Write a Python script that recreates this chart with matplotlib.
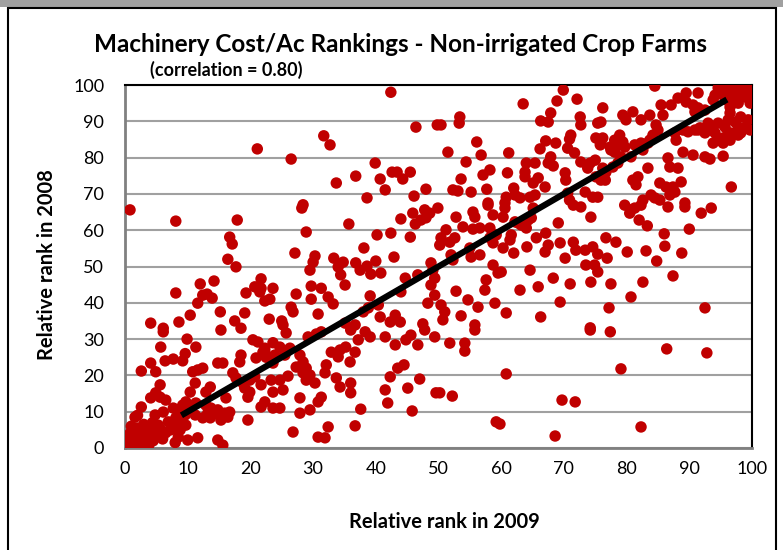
import numpy as np
import matplotlib
matplotlib.use('Agg')
import matplotlib.pyplot as plt
from matplotlib.patches import Rectangle

plt.rcParams['font.family'] = ['Lato', 'DejaVu Sans']

# (rank 2009, rank 2008) pairs, grouped by area
pts_low_left = [
    (21.1, 82.4), (0.8, 65.6), (8.1, 62.5), (17.9, 62.8), (16.7, 58.1), (17.1, 56.2), (16.4, 52), (17.7, 49.9),
    (21.7, 46.6), (20.7, 44.4), (21.7, 44), (21.5, 43), (23.6, 44), (22.3, 40.5), (23.1, 41), (19.3, 42.7),
    (14.2, 46), (12, 45.2), (8.1, 42.7), (12.4, 42.1), (13.1, 42.4), (13.9, 41.3), (11.6, 39.9), (10.4, 36.6),
    (15.2, 37.5), (19.1, 37.2), (23, 35.5), (17.5, 35), (18.5, 33), (8.6, 34.7), (4.1, 34.4), (6.1, 33), (15.3, 32.5),
    (6.1, 32), (9.9, 30), (5.7, 27.8), (11.3, 27.8), (20.4, 29.8), (22.3, 26.7), (23.6, 29), (9.6, 26), (9.2, 24),
    (7.7, 24.5), (6.4, 24), (4.1, 23.4), (2.6, 21.2), (4.9, 21), (11.6, 21.5), (10.8, 21), (12.4, 22), (14.8, 23.4),
    (15.6, 23.4), (18.5, 25.6), (18.3, 23.7), (20.9, 24.8), (22, 26.4), (22.5, 25), (23.6, 23.4), (23.9, 25.6),
    (17.2, 20.7), (17.7, 19.3), (18.8, 17.9), (19.9, 18.7), (20.7, 19.6), (19.1, 16.5), (19.9, 15.4), (19.6, 14),
    (21.7, 17.4), (23.3, 18.7), (23.6, 15.4), (22.3, 12.7), (21.7, 11.3), (23.6, 11),
    (5.6, 17.4), (4.1, 13.8), (5.6, 14), (6.5, 13.2), (4.9, 15.2), (2.6, 11.3), (1.6, 8.5), (4.8, 9.1), (6.1, 9.9),
    (7.7, 11), (9.2, 11.8), (8.8, 10.5), (9.6, 9.1), (10.5, 10.5), (11.2, 9.1), (8.1, 8.3), (6.9, 7.2), (5.3, 6.3),
    (5.7, 5), (4, 5), (3.2, 4.1), (2.1, 4.1), (1.3, 3), (1, 1.7), (0.5, 0.8), (1.8, 1.4), (2.6, 2.2), (3.7, 3.6),
    (9.7, 6.3), (8.5, 3), (10, 2.2), (11.6, 2.8), (8.8, 5), (7.3, 5),
    (16.1, 13.8), (19.6, 7.7), (14.8, 2.2), (15.6, 0.8), (13.7, 11), (12.9, 11.8), (14.4, 9.6), (14.8, 10.5),
    (15.9, 9.6), (16.4, 8.5), (13.2, 9.6), (12.4, 8.3), (13.6, 8.3), (15.3, 7.7), (16.7, 9.9), (12.9, 15.4),
    (13.6, 16.8), (10.4, 15.4), (11.2, 17.9), (9.7, 12.7), (11.3, 12.4), (21.2, 29.2), (22.3, 27.5),
    (0.3, 0.3), (1.5, 0.5), (2.2, 1), (3, 1.5), (2.8, 3), (1.2, 2.5), (0.8, 4), (3.5, 2.5), (2, 5.5), (4.5, 2),
    (0.5, 2.5), (2.5, 0.3), (3.8, 0.8), (5, 3.5), (6, 2.5), (6.5, 4.2), (4.4, 7), (3, 6.5), (1, 6), (2, 9),
    (7.5, 6.5), (8, 1.5), (9, 7),
]

pts_mid_left = [
    (42.4, 98), (46.4, 88.4), (49.8, 89), (31.7, 86), (32.7, 83.5), (26.5, 79.6), (39.9, 78.5), (42.6, 76),
    (43.4, 76), (45.5, 76), (36.8, 74.9), (40.7, 74.1), (44.3, 74.1), (33.7, 73), (41.5, 71.1), (48, 71.3),
    (46.1, 69.4), (38.6, 68.9), (28.4, 67),
    (28.2, 66.1), (35.7, 61.7), (28.9, 59.5), (45.9, 64.7), (47.8, 65.6), (48.6, 64.7), (48, 63.4), (47.2, 62.8),
    (46.3, 61.7), (44, 63.1), (40.2, 58.7), (42.4, 59.2), (45.5, 58.1), (38.1, 55.1), (42.9, 52.6), (27.1, 53.7),
    (30.3, 52.9), (30, 51.2), (29.5, 49), (33.3, 52.3), (34.8, 51.2), (34, 49.9), (34.4, 47.7), (35.1, 44.9),
    (36.8, 51), (37.5, 49), (38.6, 50.1), (40, 51.5), (39.2, 47.9), (40.8, 48.2), (48.8, 51), (49.1, 49),
    (49.4, 46.8), (48.8, 44.9), (49.4, 42.1), (44.7, 46.8), (46.7, 47.7), (44, 43), (29.7, 44.6), (31.3, 44),
    (27.3, 42.4), (29.7, 41), (32.4, 41.6), (33.2, 39.7), (39.1, 41.9), (26.5, 38.8), (26.8, 37.5), (30.8, 36.9),
    (25, 35), (25.2, 33.9), (38, 37.5), (38.8, 38.6), (40.4, 39.4), (40.7, 36.1), (43.1, 36.6), (43.9, 34.7),
    (42.3, 34.7), (47.5, 34.2), (48.3, 39.9), (35.1, 34.4), (36.7, 33.9),
    (25.7, 31.7), (29.2, 30.6), (30.5, 31.4), (31.3, 32), (24.7, 27.8), (26.3, 27.5), (25.5, 25.6), (27.9, 25.6),
    (28.4, 23.7), (27.3, 22.3), (28.9, 22), (28.4, 20.7), (29.5, 20.1), (28.9, 18.7), (30.3, 17.9), (26, 19.8),
    (24.7, 18.7), (25.2, 16), (32.1, 22.9), (31.9, 20.7), (32.9, 26.4), (34.3, 27), (35.2, 27.8), (36.7, 26.4),
    (34, 25.1), (35.9, 23.7), (36, 32.5), (37.2, 29.8), (38.3, 32), (39.1, 30.6), (33.7, 19.3), (34.3, 16.8),
    (36, 17.9), (36, 15.2), (31.3, 14), (30.8, 12.7), (29.5, 10.5), (27.9, 9.6), (27.9, 13.8), (24.7, 11),
    (37.6, 10.7), (26.8, 4.4), (30.8, 3), (31.9, 2.8), (32.4, 5.8), (36.7, 6.1), (41.5, 30.6), (43.1, 28.4),
    (44.8, 29.8), (45.6, 31.1), (46.7, 28.4), (47.8, 32.5), (49.4, 30.6), (43.5, 22), (44.5, 22.9), (42.3, 19.6),
    (41.5, 16), (41.9, 12.4), (45.1, 16.5), (47, 19), (45.8, 10.2), (49.6, 15.2),
]

pts_mid_right = [
    (51.8, 28.9), (54.2, 28.9), (54.2, 26.7), (55.8, 32.5), (74.2, 32.5), (60.8, 20.4), (50.2, 15.2), (52.2, 14.3),
    (69.7, 13.2), (71.8, 12.7), (59.2, 7.2), (59.8, 6.6), (68.6, 3.3),
    (49.9, 66.1), (52.8, 63.6), (55.5, 65), (55.8, 63.6), (57.9, 66.9), (58.7, 64.2), (60.3, 63.6), (60.6, 66.1),
    (62.2, 62.3), (63.2, 61.4), (64.3, 62.8), (65.1, 66.1), (64.8, 63.4), (64, 60.6), (62.7, 62), (69.1, 62),
    (74.3, 63.6), (71.5, 66.9), (72.7, 66.4),
    (51.2, 60.1), (53.9, 60.9), (55.5, 60.3), (56.6, 60.6), (58.2, 60.6), (59.2, 58.7), (58.2, 57.9), (58.7, 56.5),
    (60.3, 55.1), (61.4, 57.3), (61.6, 58.7), (50.4, 57.9), (51.8, 56.7), (52.6, 57.9), (50.2, 55.9), (52, 53.2),
    (52.3, 51.8), (55, 55.1), (55.2, 52.6), (56.6, 53.2),
    (62, 53.7), (64.1, 55.4), (65.6, 57.9), (67.1, 59.2), (67.5, 55.9), (67, 54), (69.4, 56.5), (70.2, 52.3),
    (71.5, 56.7), (71.9, 54.5), (73.4, 54.5), (74.6, 55.4), (74.9, 50.4), (73.5, 50.4), (74.3, 45.7), (71, 45.2),
    (68.3, 46.8),
    (58.7, 50.4), (59.5, 48.2), (60, 48.5), (64.6, 49), (57.6, 46.3), (57.4, 43.5), (52.8, 43.2), (63, 43.5),
    (65.9, 44.4), (69.4, 40.2), (54.7, 40.8), (56.3, 38.8), (59, 39.9), (50.4, 39.4), (51, 37.5), (50.7, 35.3),
    (53.6, 36.4), (55.8, 33.9), (60.8, 37.2), (66.3, 36.1), (74.2, 33.1),
    (69.9, 98.6), (68.9, 95.6), (72.1, 96.1), (63.5, 94.8), (67.9, 92.3), (67.5, 89.8), (66.3, 90.1), (72.6, 91.2),
    (72.7, 89), (75.4, 89.5), (53.4, 91.2), (53.3, 89.5), (50.4, 89), (56.1, 84.3), (56.8, 80.7), (51.5, 81.5),
    (54.4, 78.8), (61.2, 81.3), (67.1, 84.6), (68.7, 84), (66.2, 82.4), (70.6, 82.6), (71.1, 86.2), (70.9, 85.1),
    (71.7, 81.3), (75.1, 85.4),
    (67.9, 80.2), (68.3, 77.7), (67.5, 78.5), (65.4, 78.5), (64, 78.5), (63.8, 76), (63.8, 74.7), (65.9, 74.4),
    (65.1, 73), (67, 71.9), (70.2, 75.8), (70.3, 73.8), (72.7, 78.8), (73.8, 77.1), (74.2, 78.5), (75, 79.3),
    (75.1, 74.7), (61, 75.8),
    (58.2, 76.6), (57.1, 75.2), (53.6, 74.1), (52.3, 71.1), (53.1, 70.8), (55.2, 70.5), (57.7, 71.3), (62, 71.6),
    (62.2, 69.7), (60.8, 69.1), (63, 68.9), (60.6, 67.5), (64.6, 69.1), (65.4, 69.7), (70.6, 70.2), (73.4, 70.5),
    (74.6, 69.1), (70.9, 68.3), (57.9, 67.5),
]

pts_far_right = [
    (77.4, 32), (86.4, 27.3), (92.8, 26.2), (79.1, 21.8), (82.3, 5.8),
    (79.7, 66.9), (80.7, 65.6), (80.5, 64.7), (81.3, 66.1), (82.3, 66.9), (86.6, 66.4), (89.3, 66.4), (91.9, 64.7),
    (93.5, 66.1), (82, 62.8), (83.3, 61.2), (90, 60.3), (86, 59), (76.7, 57.9), (78.3, 56.7), (83.1, 54.3),
    (80.1, 54), (86.1, 55.6), (88.8, 53.7), (84.8, 51.5), (76.9, 52.3), (75.4, 53.4), (87.4, 47.4), (75.4, 48.5),
    (77.5, 45.2), (82.6, 45.7), (80.7, 41.6), (77.2, 38.6), (92.5, 38.6),
    (84.5, 99.7), (94.6, 99.2), (95.7, 99.4), (97.3, 100), (98.9, 99.4), (99.7, 100), (99.8, 98.6), (98.1, 98.1),
    (96.7, 97.8), (95.4, 97.2), (94.1, 97.2), (93.8, 95.9), (95.9, 95.9), (97.3, 96.4), (98.9, 96.7), (100, 96.4),
    (99.7, 95), (97.8, 95), (96.5, 93.9),
    (89.5, 97.8), (91.4, 97.8), (88.2, 96.4), (89.5, 95.3), (90.6, 94.5), (91.4, 93.7), (92.5, 93.1), (90.9, 92.6),
    (85.5, 94.5), (87.1, 94.5), (76.2, 93.7), (79.4, 91.7), (81, 92.6), (83.7, 91.7), (85.8, 91.7), (82.3, 90.4),
    (79.9, 90.4), (75.9, 89.8),
    (96.5, 92.3), (96.2, 90.4), (97.3, 89.8), (98.2, 91.2), (97.8, 88.4), (99.4, 90.4), (99.7, 87.6), (98.9, 88.4),
    (95.7, 88.4), (94.6, 89.5), (94.1, 86.8), (93, 89.5), (91.7, 88.2), (90.9, 87.6), (89.8, 87.1), (93.5, 87.6),
    (96.5, 86.8), (97.4, 86.8), (94.6, 84.8), (95.4, 85.4), (96.5, 84.8), (97.8, 86.2), (93.8, 84), (95.4, 84),
    (84.7, 89), (85, 87.6), (84.2, 86.2), (83.7, 84.8), (83.4, 84), (84.2, 85.4), (82.3, 84), (81.3, 83.5),
    (81.8, 82.6), (82.6, 82.1), (80.7, 80.2), (79.1, 80.2), (78.6, 78.5), (77.8, 77.4), (76.2, 77.1), (76.7, 76),
    (75.9, 73.8), (76.6, 73.8), (78.9, 86.2), (79.4, 84.3), (78.1, 84.8), (76.2, 85.4), (75.9, 84.3), (75.8, 83.5),
    (77.4, 82.9), (77.5, 82.1), (78.6, 83.5), (79.7, 82.9), (78.1, 81.5),
    (87.7, 86.8), (87.9, 84.8), (89, 87.6), (91.4, 87.6), (92.5, 86.8), (95.9, 85.7), (96.7, 86.2), (98.2, 86.8),
    (89, 81.5), (90.6, 80.7), (92.5, 80.2), (93.3, 79.6), (95.4, 80.4), (86.6, 79.9), (86.9, 77.4), (88.2, 77.1),
    (83.4, 77.1), (81, 73.8), (81.5, 72.5), (81.8, 74.7), (85.3, 73), (86.3, 71.9), (87.4, 71.9), (87.7, 70.5),
    (88.7, 73.3), (86.9, 69.7), (83.9, 69.7), (84.5, 68.9), (82.6, 68.3), (85.3, 68.3), (96.7, 71.9), (89.3, 67.5),
    (75.4, 69.1),
]

diag_ends = [9, 96]          # the black 1:1 line
x_ticks = list(range(0, 101, 10))
y_ticks = list(range(0, 101, 10))

title = 'Machinery Cost/Ac Rankings - Non-irrigated Crop Farms'
subtitle = '(correlation = 0.80)'

pts = np.array(pts_low_left + pts_mid_left + pts_mid_right + pts_far_right)
rank_2009 = pts[:, 0]
rank_2008 = pts[:, 1]

fig = plt.figure(figsize=(7.83, 5.5), dpi=100)

# frame around the picture (as in the source export)
fig.patches.append(Rectangle((0, 1 - 7 / 550), 1, 7 / 550, transform=fig.transFigure,
                             facecolor='#a0a0a0', edgecolor='none'))
fig.patches.append(Rectangle((8 / 783, -0.05), 768 / 783, 1.05 - 8 / 550, transform=fig.transFigure,
                             facecolor='none', edgecolor='black', linewidth=1.5))

ax = fig.add_axes([125 / 783, 102 / 550, 627 / 783, 363 / 550])
ax.scatter(rank_2009, rank_2008, s=68, color='#c00000', edgecolors='none', zorder=3)
ax.plot(diag_ends, diag_ends, color='black', linewidth=4.5, zorder=4, solid_capstyle='butt')

ax.set_xlim(0, 100)
ax.set_ylim(0, 100)
ax.set_xticks(x_ticks)
ax.set_yticks(y_ticks)
ax.tick_params(length=0, labelsize=13)
ax.tick_params(axis='y', pad=15)
ax.tick_params(axis='x', pad=9)
ax.yaxis.grid(True, color='#a0a0a0', linewidth=1.5)
ax.set_axisbelow(True)
for side in ['left', 'bottom']:
    ax.spines[side].set_color('#808080')
    ax.spines[side].set_linewidth(2)
for side in ['top', 'right']:
    ax.spines[side].set_color('black')
    ax.spines[side].set_linewidth(1.5)

fig.text(0.512, 0.92, title, ha='center', va='center', fontsize=17.5, fontweight='bold')
fig.text(0.289, 0.873, subtitle, ha='center', va='center', fontsize=13, fontweight='bold')
fig.text(0.06, 0.518, 'Relative rank in 2008', ha='center', va='center', rotation=90,
         fontsize=14.5, fontweight='bold')
fig.text(0.568, 0.051, 'Relative rank in 2009', ha='center', va='center', fontsize=14.5, fontweight='bold')

fig.savefig('out.png', dpi=100)
